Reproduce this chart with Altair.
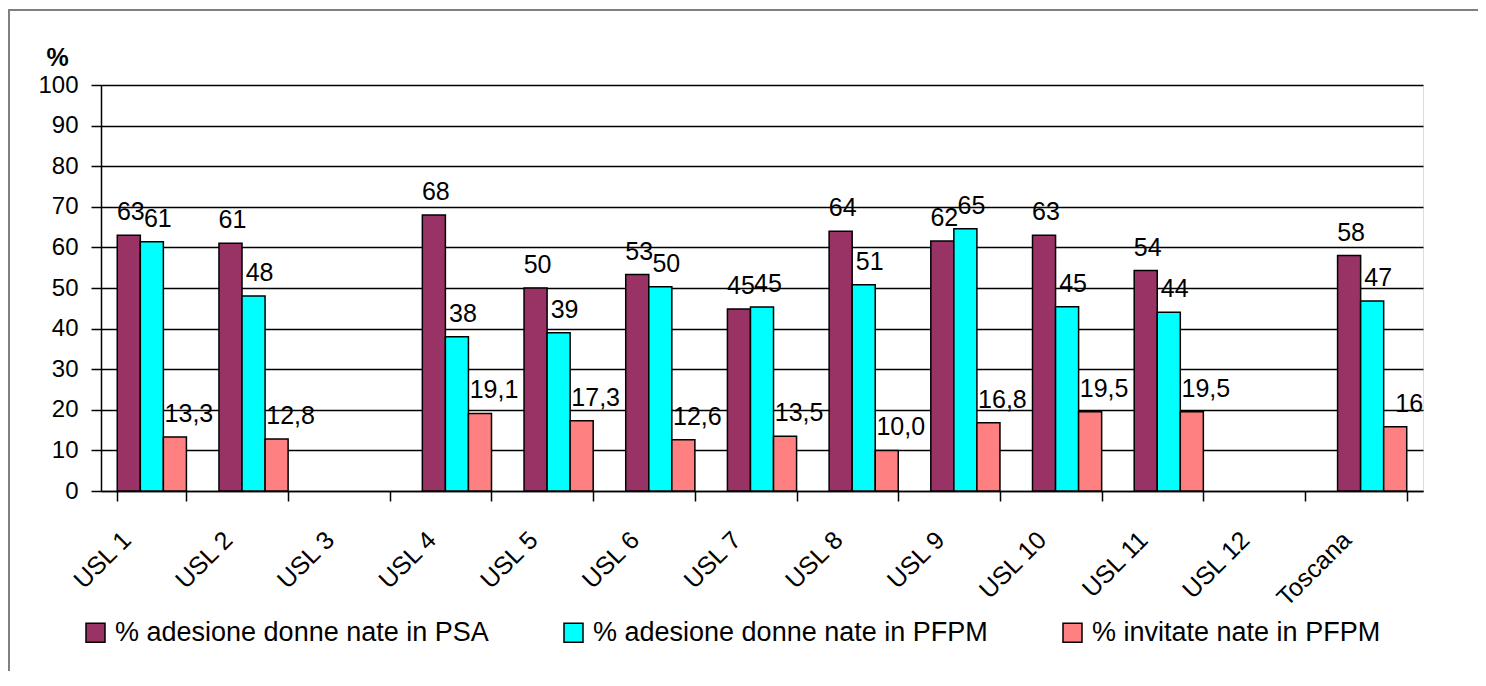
import altair as alt
import pandas as pd

categories = ["USL 1", "USL 2", "USL 3", "USL 4", "USL 5", "USL 6", "USL 7",
              "USL 8", "USL 9", "USL 10", "USL 11", "USL 12", "Toscana"]
series = ["% adesione donne nate in PSA", "% adesione donne nate in PFPM", "% invitate nate in PFPM"]
psa = [63, 61, None, 68, 50, 53.3, 44.8, 64, 61.6, 63, 54.3, None, 58]
pfpm = [61.4, 48, None, 38, 39, 50.3, 45.3, 50.8, 64.6, 45.4, 44, None, 46.8]
invitate = [13.3, 12.8, None, 19.1, 17.3, 12.6, 13.5, 10.0, 16.8, 19.5, 19.5, None, 15.8]
psa_labels = ["63", "61", "", "68", "50", "53", "45", "64", "62", "63", "54", "", "58"]
pfpm_labels = ["61", "48", "", "38", "39", "50", "45", "51", "65", "45", "44", "", "47"]
inv_labels = ["13,3", "12,8", "", "19,1", "17,3", "12,6", "13,5", "10,0", "16,8", "19,5", "19,5", "", "16"]
colors = ["#993366", "#00FFFF", "#FF8080"]
y_ticks = list(range(0, 101, 10))

FONT = "Liberation Sans, Arial, sans-serif"

rows = []
for s, vals, labs in zip(series, [psa, pfpm, invitate], [psa_labels, pfpm_labels, inv_labels]):
    for c, v, l in zip(categories, vals, labs):
        rows.append({"cat": c, "series": s, "value": v, "label": l})
df = pd.DataFrame(rows)

x_enc = alt.X("cat:N", sort=categories,
              scale=alt.Scale(domain=categories, paddingInner=0.32, paddingOuter=0.16),
              axis=alt.Axis(title=None, labelAngle=-45, labelAlign="right", labelBaseline="top",
                            labelOffset=-34, labelPadding=26, tickBand="extent", tickSize=10,
                            tickColor="black", tickWidth=1.5, domainColor="black", domainWidth=1.5,
                            labelFont=FONT, labelFontSize=25, labelColor="black", grid=False))
xoff_enc = alt.XOffset("series:N", sort=series, scale=alt.Scale(domain=series, paddingInner=0, paddingOuter=0))
y_enc = alt.Y("value:Q", scale=alt.Scale(domain=[0, 100], nice=False),
              axis=alt.Axis(values=y_ticks, tickSize=10, tickColor="black", tickWidth=1.5,
                            labelPadding=13, labelFont=FONT, labelFontSize=24, labelColor="black",
                            title="%", titleAngle=0, titleX=-44, titleY=-20, titleAlign="center",
                            titleBaseline="alphabetic", titleFont=FONT, titleFontSize=25,
                            titleFontWeight="bold", titleColor="black",
                            gridColor="black", gridWidth=1.5, domainColor="black", domainWidth=1.5))

base = alt.Chart(df)

bars = base.mark_bar(stroke="black", strokeWidth=1.5).encode(
    x=x_enc, xOffset=xoff_enc, y=y_enc,
    color=alt.Color("series:N", sort=series, scale=alt.Scale(domain=series, range=colors),
                    legend=alt.Legend(orient="none", legendX=-19, legendY=534, direction="horizontal",
                                      title=None, symbolType="square", symbolSize=361,
                                      symbolStrokeColor="black", symbolStrokeWidth=1.5,
                                      labelFont=FONT, labelFontSize=27, labelColor="black",
                                      labelOffset=6, columnPadding=71, labelLimit=1000, padding=0)),
)

text_dx = [2, 6, 14]
texts = []
for s, dx in zip(series, text_dx):
    texts.append(
        base.transform_filter(alt.datum.series == s).mark_text(
            dx=dx, dy=-15, align="center", baseline="alphabetic", font=FONT, fontSize=25, color="black"
        ).encode(x=x_enc, xOffset=xoff_enc, y=y_enc, text="label:N")
    )

border_top = base.mark_rule(color="#808080", strokeWidth=1.5).encode(
    x=alt.value(-92.5), x2=alt.value(1377), y=alt.value(-75))
border_left = base.mark_rule(color="#808080", strokeWidth=1.5).encode(
    x=alt.value(-92.5), y=alt.value(-75), y2=alt.value(595))

chart = alt.layer(bars, *texts, border_top, border_left).properties(
    width=1322, height=406,
    autosize=alt.AutoSizeParams(type="none"),
    padding={"left": 93, "top": 77, "right": 55, "bottom": 180},
).configure_view(stroke="black", strokeWidth=1.5).configure(font=FONT)

chart.save("out.html", embed_options={"renderer": "svg", "actions": False})
